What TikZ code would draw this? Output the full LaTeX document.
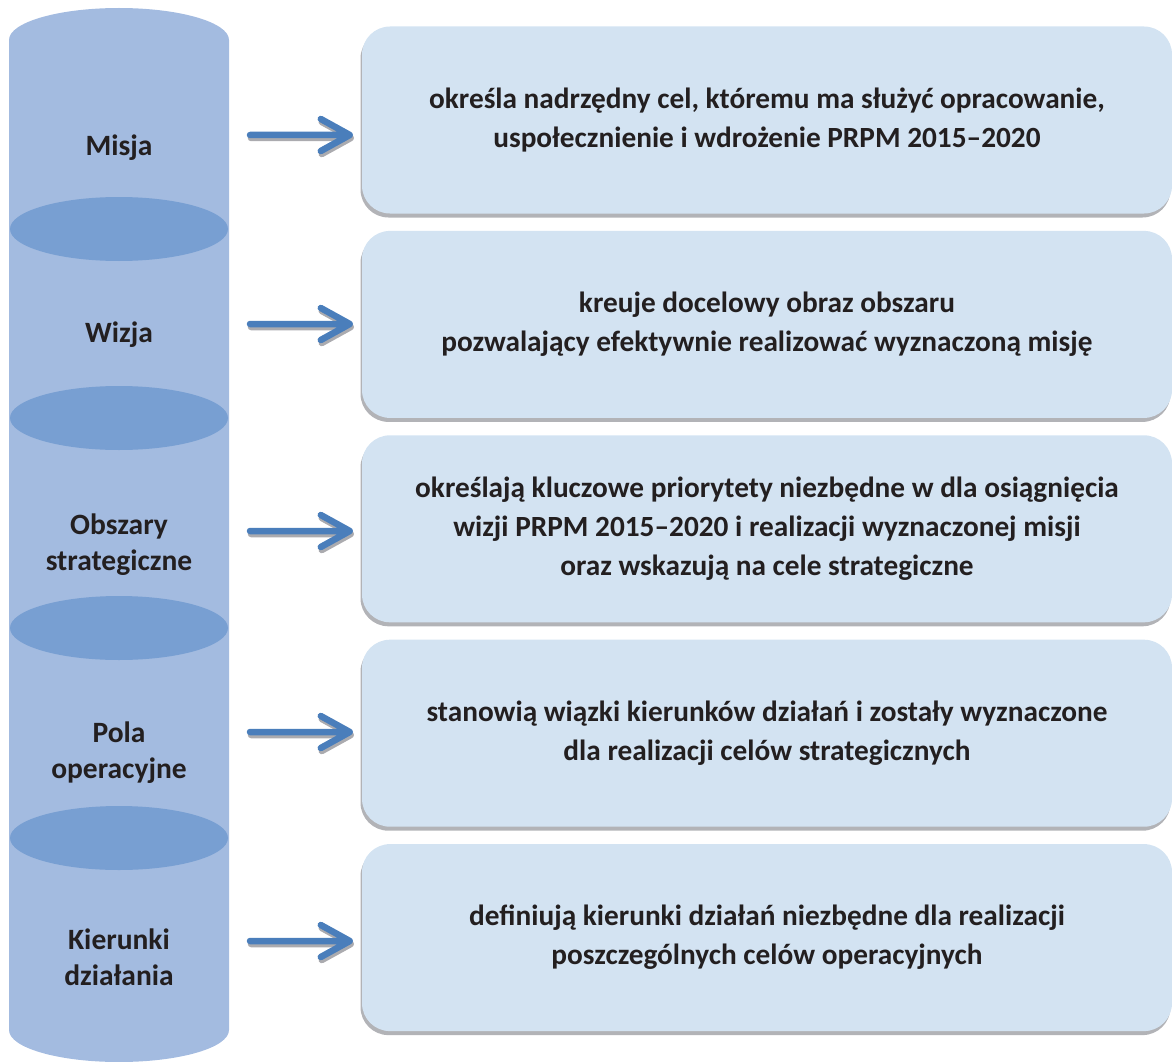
\documentclass[tikz,border=0pt]{standalone}
\usepackage{fontspec}
\setmainfont{Carlito}
\usepackage{tikz}
\usetikzlibrary{positioning,shadows}

\definecolor{cylLight}{HTML}{A3BBE0}
\definecolor{cylDark}{HTML}{789FD2}
\definecolor{boxFill}{HTML}{D3E3F2}
\definecolor{boxShadow}{HTML}{B2B3B7}
\definecolor{arrBlue}{HTML}{4A7EBB}
\definecolor{arrShadow}{HTML}{ABABAF}
\definecolor{txt}{HTML}{231F20}

\begin{document}
\begin{tikzpicture}[x=1pt, y=1pt, node distance = 17pt,
	every node/.style = {text=txt, align=center,
		font=\fontsize{29.3}{39}\selectfont\bfseries},
	level/.style = {text width=220pt, font=\fontsize{29.5}{36}\selectfont\bfseries},
	infobox/.style = {rectangle, rounded corners=28pt, fill=boxFill, inner sep=0pt,
		minimum width=810pt, minimum height=187pt,
		drop shadow={shadow xshift=-1.5pt, shadow yshift=-4pt, fill=boxShadow, opacity=1}},
	flow/.style = {line width=6.5pt, draw=arrBlue, line cap=round, line join=round},
	flowshade/.style = {flow, draw=arrShadow, transform canvas={shift={(1pt,-3pt)}}}]
	
	\useasboundingbox (0,0) rectangle (1172,-1062);
	
	% left column: stacked cylinders
	\fill[cylLight] (9,-40)  arc[start angle=180, end angle=0, x radius=110, y radius=32]
		-- (229,-229) arc[start angle=0, end angle=-180, x radius=110, y radius=32] -- cycle;
	\fill[cylLight] (9,-229) arc[start angle=180, end angle=0, x radius=110, y radius=32]
		-- (229,-418) arc[start angle=0, end angle=-180, x radius=110, y radius=32] -- cycle;
	\fill[cylLight] (9,-418) arc[start angle=180, end angle=0, x radius=110, y radius=32]
		-- (229,-628) arc[start angle=0, end angle=-180, x radius=110, y radius=32] -- cycle;
	\fill[cylLight] (9,-628) arc[start angle=180, end angle=0, x radius=110, y radius=32]
		-- (229,-838) arc[start angle=0, end angle=-180, x radius=110, y radius=32] -- cycle;
	\fill[cylLight] (9,-838) arc[start angle=180, end angle=0, x radius=110, y radius=32]
		-- (229,-1030) arc[start angle=0, end angle=-180, x radius=110, y radius=32] -- cycle;
	% overlaps between the cylinders
	\fill[cylDark] (119,-229) ellipse[x radius=109, y radius=32];
	\fill[cylDark] (119,-418) ellipse[x radius=109, y radius=32];
	\fill[cylDark] (119,-628) ellipse[x radius=109, y radius=32];
	\fill[cylDark] (119,-838) ellipse[x radius=109, y radius=32];
	
	\node[level] (misja)    at (119,-148) {Misja};
	\node[level] (wizja)    at (119,-335) {Wizja};
	\node[level] (obszary)  at (119,-545) {Obszary\\strategiczne};
	\node[level] (pola)     at (119,-753) {Pola\\operacyjne};
	\node[level] (kierunki) at (119,-957) {Kierunki\\działania};
	
	% right column: descriptions
	\node[infobox] (opisMisja) at (767,-120)
		{określa nadrzędny cel, któremu ma służyć opracowanie,\\uspołecznienie i wdrożenie PRPM 2015–2020};
	\node[infobox] (opisWizja) [below = of opisMisja]
		{kreuje docelowy obraz obszaru\\pozwalający efektywnie realizować wyznaczoną misję};
	\node[infobox] (opisObszary) [below = of opisWizja]
		{określają kluczowe priorytety niezbędne w dla osiągnięcia\\wizji PRPM 2015–2020 i realizacji wyznaczonej misji\\oraz wskazują na cele strategiczne};
	\node[infobox] (opisPola) [below = of opisObszary]
		{stanowią wiązki kierunków działań i zostały wyznaczone\\dla realizacji celów strategicznych};
	\node[infobox] (opisKierunki) [below = of opisPola]
		{definiują kierunki działań niezbędne dla realizacji\\poszczególnych celów operacyjnych};
	
	% arrows (shaft + open head)
	\coordinate (sMisja)    at (250,-135);
	\coordinate (sWizja)    at (250,-324);
	\coordinate (sObszary)  at (250,-531);
	\coordinate (sPola)     at (250,-732);
	\coordinate (sKierunki) at (250,-941);
	\coordinate (eMisja)    at ([xshift=-12pt]opisMisja.west |- sMisja);
	\coordinate (eWizja)    at ([xshift=-12pt]opisWizja.west |- sWizja);
	\coordinate (eObszary)  at ([xshift=-12pt]opisObszary.west |- sObszary);
	\coordinate (ePola)     at ([xshift=-12pt]opisPola.west |- sPola);
	\coordinate (eKierunki) at ([xshift=-12pt]opisKierunki.west |- sKierunki);
	
	\draw[flowshade] (sMisja) -- (eMisja) ([shift={(-29,16)}]eMisja) -- (eMisja) -- ([shift={(-29,-16)}]eMisja);
	\draw[flow]      (sMisja) -- (eMisja) ([shift={(-29,16)}]eMisja) -- (eMisja) -- ([shift={(-29,-16)}]eMisja);
	\draw[flowshade] (sWizja) -- (eWizja) ([shift={(-29,16)}]eWizja) -- (eWizja) -- ([shift={(-29,-16)}]eWizja);
	\draw[flow]      (sWizja) -- (eWizja) ([shift={(-29,16)}]eWizja) -- (eWizja) -- ([shift={(-29,-16)}]eWizja);
	\draw[flowshade] (sObszary) -- (eObszary) ([shift={(-29,16)}]eObszary) -- (eObszary) -- ([shift={(-29,-16)}]eObszary);
	\draw[flow]      (sObszary) -- (eObszary) ([shift={(-29,16)}]eObszary) -- (eObszary) -- ([shift={(-29,-16)}]eObszary);
	\draw[flowshade] (sPola) -- (ePola) ([shift={(-29,16)}]ePola) -- (ePola) -- ([shift={(-29,-16)}]ePola);
	\draw[flow]      (sPola) -- (ePola) ([shift={(-29,16)}]ePola) -- (ePola) -- ([shift={(-29,-16)}]ePola);
	\draw[flowshade] (sKierunki) -- (eKierunki) ([shift={(-29,16)}]eKierunki) -- (eKierunki) -- ([shift={(-29,-16)}]eKierunki);
	\draw[flow]      (sKierunki) -- (eKierunki) ([shift={(-29,16)}]eKierunki) -- (eKierunki) -- ([shift={(-29,-16)}]eKierunki);
\end{tikzpicture}
\end{document}
